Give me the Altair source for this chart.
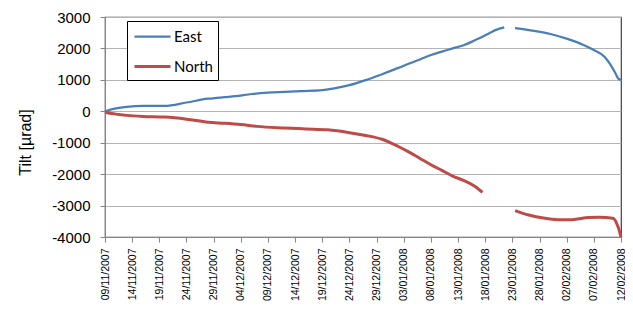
import altair as alt
import pandas as pd

# ---- data ----
east_dates_1 = ["2007-11-09", "2007-11-11", "2007-11-13", "2007-11-16", "2007-11-20",
                "2007-11-24", "2007-11-28", "2007-12-01", "2007-12-03", "2007-12-06",
                "2007-12-09", "2007-12-12", "2007-12-15", "2007-12-19", "2007-12-21",
                "2007-12-24", "2007-12-27", "2007-12-30", "2008-01-02", "2008-01-04",
                "2008-01-06", "2008-01-08", "2008-01-10", "2008-01-12", "2008-01-14",
                "2008-01-16", "2008-01-17", "2008-01-19", "2008-01-20", "2008-01-21T12:00"]
east_values_1 = [0, 90, 140, 170, 170,
                 280, 400, 450, 480, 550,
                 590, 615, 640, 670, 720,
                 830, 990, 1180, 1380, 1520,
                 1650, 1790, 1900, 2000, 2100,
                 2250, 2330, 2510, 2590, 2670]
east_dates_2 = ["2008-01-23T12:00", "2008-01-27", "2008-01-30", "2008-02-02", "2008-02-05",
                "2008-02-07", "2008-02-09", "2008-02-10", "2008-02-11", "2008-02-11T12:00",
                "2008-02-12"]
east_values_2 = [2650, 2560, 2460, 2310, 2120,
                 1950, 1730, 1500, 1200, 1040,
                 1000]

north_dates_1 = ["2007-11-09", "2007-11-11", "2007-11-13", "2007-11-16", "2007-11-20",
                 "2007-11-24", "2007-11-28", "2007-12-01", "2007-12-04", "2007-12-07",
                 "2007-12-12", "2007-12-16", "2007-12-20", "2007-12-24", "2007-12-27",
                 "2007-12-30", "2008-01-02", "2008-01-04", "2008-01-06", "2008-01-08",
                 "2008-01-10", "2008-01-12", "2008-01-14", "2008-01-16", "2008-01-17T12:00"]
north_values_1 = [-30, -90, -130, -165, -185,
                  -250, -350, -380, -420, -480,
                  -530, -560, -590, -680, -770,
                  -890, -1120, -1300, -1500, -1700,
                  -1880, -2060, -2200, -2380, -2580]
north_dates_2 = ["2008-01-23T12:00", "2008-01-26", "2008-01-29", "2008-02-01", "2008-02-03",
                 "2008-02-06", "2008-02-08", "2008-02-10T12:00", "2008-02-11T12:00", "2008-02-12"]
north_values_2 = [-3160, -3300, -3400, -3450, -3450,
                  -3380, -3370, -3400, -3700, -4000]

series_names = ["East", "North"]
series_colors = ["#4A7EBB", "#BE4B48"]
series_widths = [2.25, 3.0]

tick_dates = ["2007-11-09", "2007-11-14", "2007-11-19", "2007-11-24", "2007-11-29",
              "2007-12-04", "2007-12-09", "2007-12-14", "2007-12-19", "2007-12-24",
              "2007-12-29", "2008-01-03", "2008-01-08", "2008-01-13", "2008-01-18",
              "2008-01-23", "2008-01-28", "2008-02-02", "2008-02-07", "2008-02-12"]
y_ticks = [-4000, -3000, -2000, -1000, 0, 1000, 2000, 3000]


def to_local(s):
    return s if "T" in s else s + "T00:00:00"


def dt(s):
    y, m, d = s[:10].split("-")
    return alt.DateTime(year=int(y), month=int(m), date=int(d))


rows = []
for seg, (ds, vs, name) in enumerate([
        (east_dates_1, east_values_1, "East"),
        (east_dates_2, east_values_2, "East"),
        (north_dates_1, north_values_1, "North"),
        (north_dates_2, north_values_2, "North")]):
    for d, v in zip(ds, vs):
        rows.append({"date": to_local(d), "value": v, "series": name, "seg": seg})
df = pd.DataFrame(rows)

chart = alt.Chart(df).mark_line(interpolate="monotone").encode(
    x=alt.X("date:T",
            scale=alt.Scale(domain=[dt(tick_dates[0]), dt(tick_dates[-1])]),
            axis=alt.Axis(values=[dt(t) for t in tick_dates], format="%d/%m/%Y",
                          labelAngle=270, labelAlign="right", labelBaseline="middle",
                          labelFont="Liberation Sans", labelFontSize=10.5, labelColor="#000000",
                          labelPadding=6, labelOverlap=False, tickSize=5,
                          tickColor="#868686", domainColor="#868686", grid=False,
                          title=None)),
    y=alt.Y("value:Q",
            scale=alt.Scale(domain=[-4000, 3000], nice=False),
            axis=alt.Axis(values=y_ticks, labelExpr="toString(datum.value)",
                          labelFont="Liberation Sans", labelFontSize=15, labelColor="#000000",
                          labelPadding=10, tickSize=5, tickColor="#868686",
                          domainColor="#868686", gridColor="#B4B4B4", gridWidth=1,
                          title="Tilt [µrad]", titleFont="Liberation Sans",
                          titleFontSize=16, titleFontWeight="normal", titleColor="#000000",
                          titleAngle=270, titleX=-80, titleY=125,
                          titleAlign="center", titleBaseline="middle")),
    color=alt.Color("series:N",
                    scale=alt.Scale(domain=series_names, range=series_colors),
                    legend=alt.Legend(title=None, orient="none", legendX=22, legendY=4,
                                      symbolType="M-2,0H2", symbolSize=324,
                                      symbolStrokeWidth=2.6, symbolOffset=10,
                                      labelOffset=11, labelFont="Lato", labelFontSize=15,
                                      labelColor="#000000", rowPadding=11, padding=5,
                                      strokeColor="#000000", fillColor="#FFFFFF")),
    strokeWidth=alt.StrokeWidth("series:N",
                                scale=alt.Scale(domain=series_names, range=series_widths),
                                legend=None),
    detail="seg:N",
).properties(
    width=516, height=220,
    autosize=alt.AutoSizeParams(type="none"),
    padding={"left": 97, "top": 9, "right": 4, "bottom": 67},
).configure_view(stroke="#404040", strokeWidth=1.2)

chart.save("out.html", embed_options={"renderer": "svg", "actions": False})
